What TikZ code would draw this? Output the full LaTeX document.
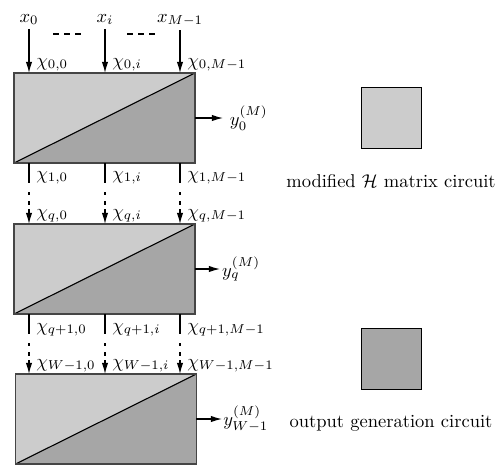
\documentclass[tikz,border=0pt]{standalone}
\usetikzlibrary{arrows.meta}
\definecolor{lightg}{HTML}{CCCCCC}
\definecolor{darkg}{HTML}{A6A6A6}
\definecolor{edgeg}{HTML}{454545}
\begin{document}
\begin{tikzpicture}[x=0.54pt,y=-0.54pt,
  circuit/.style={draw=edgeg,line width=0.7pt,fill=lightg,minimum width=97.7pt,minimum height=48.6pt,inner sep=0pt,outer sep=0pt,
    path picture={\fill[darkg] (path picture bounding box.south west) -- (path picture bounding box.north east) -- (path picture bounding box.south east) -- cycle;
      \draw[black,line width=0.6pt] (path picture bounding box.south west) -- (path picture bounding box.north east);}},
  arr/.style={line width=0.6pt,-{Latex[length=6pt,width=3.4pt]}},
  wire/.style={line width=0.6pt},
  dropline/.style={arr,dash pattern=on 0pt off 4.86pt on 1.62pt off 3.24pt on 2.16pt off 2.16pt on 30pt off 1pt},
  lab/.style={anchor=base west,inner sep=0pt},
  inlab/.style={anchor=base,inner sep=2pt},
  legendbox/.style={draw=black,line width=0.7pt,minimum size=32.6pt,inner sep=0pt}
]
\useasboundingbox (0,0) rectangle (498,466);

% circuits
\node[circuit] (b1) at (104.5,118) {};
\node[circuit] (b2) at (104.5,269) {};
\node[circuit] (b3) at (106,419) {};

% inputs
\node[inlab] (x0) at (29,22) {$x_0$};
\node[inlab] (xi) at (105,22) {$x_i$};
\node[inlab] (xM) at (180,22) {$x_{M-1}$};
\draw[arr] (x0.south) -- (x0.south |- b1.north);
\draw[arr] (xi.south) -- (xi.south |- b1.north);
\draw[arr] (xM.south) -- (xM.south |- b1.north);
\coordinate (d1a) at (53,34); \coordinate (d1b) at (81,34);
\coordinate (d2a) at (127,34); \coordinate (d2b) at (155,34);
\draw[wire,dash pattern=on 3.24pt off 2.7pt] (d1a) -- (d1b);
\draw[wire,dash pattern=on 3.24pt off 2.7pt] (d2a) -- (d2b);

% column coordinates
\coordinate (c0) at (29,0);
\coordinate (ci) at (105,0);
\coordinate (cM) at (180,0);

% labels box 1 top
\node[lab] (k00) at (36,66) {$\chi_{0,0}$};
\node[lab] (k0i) at (112,66) {$\chi_{0,i}$};
\node[lab] (k0M) at (187,66) {$\chi_{0,M-1}$};

% between box 1 and box 2
\draw[wire] (b1.south -| c0) -- ++(0,20) coordinate (m10);
\draw[wire] (b1.south -| ci) -- ++(0,20) coordinate (m1i);
\draw[wire] (b1.south -| cM) -- ++(0,20) coordinate (m1M);
\draw[dropline] (m10) -- (m10 |- b2.north);
\draw[dropline] (m1i) -- (m1i |- b2.north);
\draw[dropline] (m1M) -- (m1M |- b2.north);
\node[lab] (k10) at (36,179) {$\chi_{1,0}$};
\node[lab] (k1i) at (112,179) {$\chi_{1,i}$};
\node[lab] (k1M) at (187,179) {$\chi_{1,M-1}$};
\node[lab] (kq0) at (36,217) {$\chi_{q,0}$};
\node[lab] (kqi) at (112,217) {$\chi_{q,i}$};
\node[lab] (kqM) at (187,217) {$\chi_{q,M-1}$};

% between box 2 and box 3
\draw[wire] (b2.south -| c0) -- ++(0,20) coordinate (m20);
\draw[wire] (b2.south -| ci) -- ++(0,20) coordinate (m2i);
\draw[wire] (b2.south -| cM) -- ++(0,20) coordinate (m2M);
\draw[dropline] (m20) -- (m20 |- b3.north);
\draw[dropline] (m2i) -- (m2i |- b3.north);
\draw[dropline] (m2M) -- (m2M |- b3.north);
\node[lab] (kp0) at (36,331) {$\chi_{q+1,0}$};
\node[lab] (kpi) at (112,331) {$\chi_{q+1,i}$};
\node[lab] (kpM) at (187,331) {$\chi_{q+1,M-1}$};
\node[lab] (kW0) at (36,367) {$\chi_{W-1,0}$};
\node[lab] (kWi) at (112,367) {$\chi_{W-1,i}$};
\node[lab] (kWM) at (187,367) {$\chi_{W-1,M-1}$};

% outputs
\node[anchor=west,inner xsep=3.5pt,inner ysep=0pt] (y0) at (223,118) {$y_0^{(M)}$};
\node[anchor=west,inner xsep=1pt,inner ysep=0pt] (yq) at (220,269) {$y_q^{(M)}$};
\node[anchor=west,inner xsep=0.5pt,inner ysep=0pt] (yW) at (222,419) {$y_{W-1}^{(M)}$};
\draw[arr] (b1.east) -- (y0.west);
\draw[arr] (b2.east) -- (yq.west);
\draw[arr] (b3.east) -- (yW.west);

% legend
\node[legendbox,fill=lightg] (L1) at (391.5,118) {};
\node[anchor=base] (L1t) at (391,187) {modified $\mathcal{H}$ matrix circuit};
\node[legendbox,fill=darkg] (L2) at (391.5,359) {};
\node[anchor=base] (L2t) at (391,427) {output generation circuit};
\end{tikzpicture}
\end{document}
